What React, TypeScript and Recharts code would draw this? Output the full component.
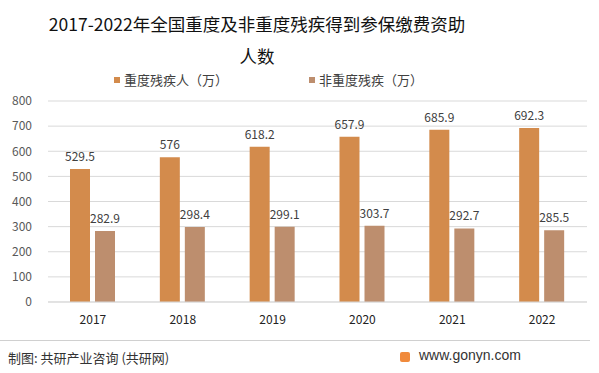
import React from 'react';
import { BarChart, Bar, XAxis, YAxis, CartesianGrid, LabelList } from 'recharts';

const years = ['2017', '2018', '2019', '2020', '2021', '2022'];
const severe = [529.5, 576, 618.2, 657.9, 685.9, 692.3];
const nonSevere = [282.9, 298.4, 299.1, 303.7, 292.7, 285.5];
const yTicks = [0, 100, 200, 300, 400, 500, 600, 700, 800];
const seriesNames = ['重度残疾人（万）', '非重度残疾（万）'];

const data = years.map((y, i) => ({ year: y, a: severe[i], b: nonSevere[i] }));

const COLOR_A = '#D38B4C';
const COLOR_B = '#BD8E6E';
const FONT = '"Noto Sans CJK SC", "Liberation Sans", sans-serif';

export default function App() {
  return (
    <div style={{ position: 'absolute', left: 0, top: 0, width: 599, height: 373, background: '#fff', fontFamily: FONT, overflow: 'hidden' }}>
      <div style={{ position: 'absolute', left: 0, top: 8, width: 514, textAlign: 'center', fontSize: 17.5, lineHeight: '32px', color: '#111' }}>
        2017-2022年全国重度及非重度残疾得到参保缴费资助<br />人数
      </div>
      <div style={{ position: 'absolute', top: 70, left: 114, display: 'flex', alignItems: 'center', fontSize: 13, color: '#404040' }}>
        <span style={{ display: 'inline-block', width: 6, height: 6, background: COLOR_A, marginRight: 4 }} />
        <span>{seriesNames[0]}</span>
      </div>
      <div style={{ position: 'absolute', top: 70, left: 309, display: 'flex', alignItems: 'center', fontSize: 13, color: '#404040' }}>
        <span style={{ display: 'inline-block', width: 6, height: 6, background: COLOR_B, marginRight: 4 }} />
        <span>{seriesNames[1]}</span>
      </div>
      <div style={{ position: 'absolute', left: 0, top: 0 }}>
        <BarChart width={599} height={373} data={data} margin={{ top: 101, right: 12, bottom: 41, left: 0 }} barGap={5} barSize={20}>
          <CartesianGrid vertical={false} stroke="#d9d9d9" />
          <XAxis dataKey="year" height={30} axisLine={{ stroke: '#d9d9d9' }} tickLine={false} tickMargin={7} tick={{ fontSize: 12, fill: '#222', fontFamily: FONT }} />
          <YAxis width={48} domain={[0, 800]} ticks={yTicks} interval={0} axisLine={false} tickLine={false} tickMargin={10} tick={{ fontSize: 12, fill: '#595959', fontFamily: FONT }} />
          <Bar dataKey="a" fill={COLOR_A} isAnimationActive={false}>
            <LabelList dataKey="a" position="top" offset={8} style={{ fontSize: 12, fill: '#404040', fontFamily: FONT }} />
          </Bar>
          <Bar dataKey="b" fill={COLOR_B} isAnimationActive={false}>
            <LabelList dataKey="b" position="top" offset={8} style={{ fontSize: 12, fill: '#404040', fontFamily: FONT }} />
          </Bar>
        </BarChart>
      </div>
      <div style={{ position: 'absolute', left: 0, top: 340, width: 590, height: 1, background: '#d0d0d0' }} />
      <div style={{ position: 'absolute', left: 8, top: 348, fontSize: 13, color: '#333' }}>制图: 共研产业咨询 (共研网)</div>
      <div style={{ position: 'absolute', left: 400, top: 352, width: 10, height: 10, background: '#F08A3C', borderRadius: 2 }} />
      <div style={{ position: 'absolute', left: 419, top: 347, fontSize: 14, color: '#333', fontFamily: '"Liberation Sans", sans-serif' }}>www.gonyn.com</div>
    </div>
  );
}
